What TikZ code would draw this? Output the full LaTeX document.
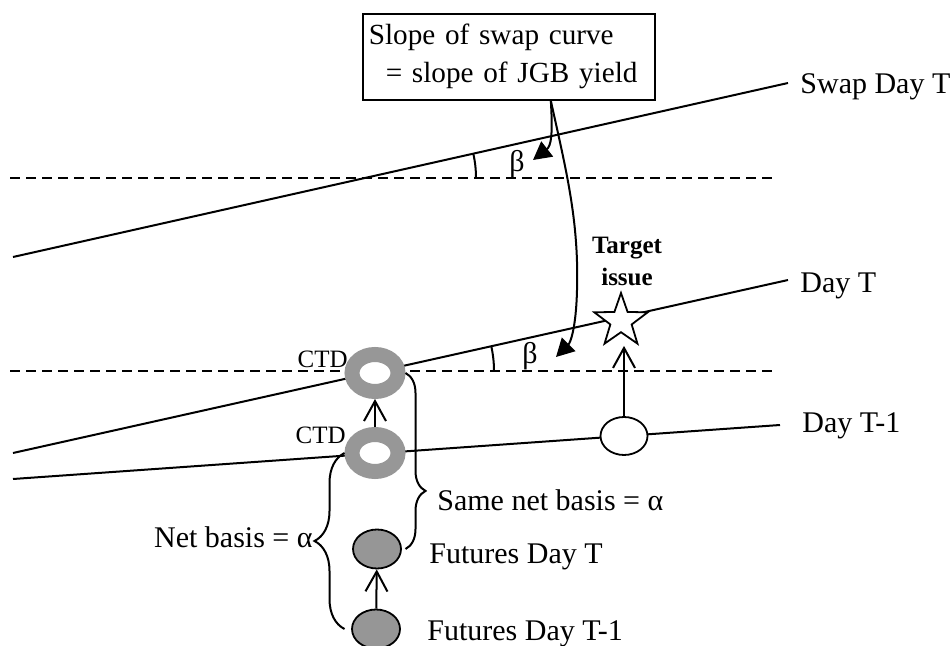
\documentclass[tikz,border=0pt]{standalone}
\usepackage{fontspec}
\setmainfont{Liberation Serif}
\usetikzlibrary{shapes.geometric,arrows.meta,positioning,decorations.pathreplacing,calc}
\definecolor{ringgray}{HTML}{979797}
\definecolor{futgray}{HTML}{969696}

\begin{document}
\begin{tikzpicture}[
  x=0.5pt, y=-0.5pt,
  curve/.style={line width=1pt},
  levelline/.style={line width=1pt, dash pattern=on 5pt off 3pt},
  lbl/.style={font=\fontsize{15}{18}\selectfont, inner sep=0pt},
  ctdlbl/.style={font=\fontsize{12.5}{14}\selectfont, inner sep=0pt},
  tgtlbl/.style={font=\fontsize{12.5}{16}\selectfont\bfseries, inner sep=0pt, align=center},
  notebox/.style={draw, line width=0.8pt, font=\fontsize{14.6}{19}\selectfont,
                  align=left, text width=140pt, inner xsep=3pt, minimum height=43pt},
  ctdring/.style={ellipse, draw=ringgray, line width=7.5pt, fill=white,
                  minimum width=23pt, minimum height=18.5pt, inner sep=0pt},
  bondov/.style={ellipse, draw, line width=0.9pt, fill=white,
                 minimum width=23.5pt, minimum height=19pt, inner sep=0pt},
  futov/.style={ellipse, draw, line width=0.9pt, fill=futgray,
                minimum width=24pt, minimum height=19.5pt, inner sep=0pt},
  tgtstar/.style={star, star points=5, star point ratio=2.5, draw, line width=0.9pt,
                  fill=white, minimum size=28pt, inner sep=0pt},
  moveup/.style={-{Straight Barb[length=10pt,width=11pt]}, line width=1pt},
  ptr/.style={-{Triangle[length=9pt,width=9.5pt]}, line width=1pt},
  bracel/.style={decorate, decoration={brace, amplitude=15pt}, line width=1pt},
  bracer/.style={decorate, decoration={brace, amplitude=10pt, aspect=0.67}, line width=1pt}
]
\useasboundingbox (0,0) rectangle (952,646);

%--- Yield curves ---
\coordinate (swapL) at (13,257);
\coordinate (swapR) at (788,83);
\coordinate (dayL)  at (13,453);
\coordinate (dayR)  at (788,280);
\coordinate (prevL) at (13,479);
\coordinate (prevR) at (780,425);
\draw[curve] (swapL) -- (swapR);
\draw[curve] (dayL) -- (dayR);
\draw[curve] (prevL) -- (prevR);
\node[lbl, anchor=base west] (swaplbl) at (800,94)  {Swap Day T};
\node[lbl, anchor=base west] (daylbl)  at (800,293) {Day T};
\node[lbl, anchor=base west] (prevlbl) at (802,432) {Day T-1};

%--- Flat reference levels ---
\draw[levelline] (10,178) -- (775,178);
\draw[levelline] (10,371) -- (777,371);

%--- Slope angles ---
\draw[curve] (365,178) ++(111,0) arc[start angle=0, end angle=-12.6, radius=111];
\draw[curve] (380,371) ++(114,0) arc[start angle=0, end angle=-12.6, radius=114];
\node[lbl] (betaup)  at (517,164) {β};
\node[lbl] (betalow) at (530,356) {β};

%--- Bonds ---
\node[ctdring] (ctdT) at (375,373) {};
\node[ctdring] (ctdP) at (375,453) {};
\node[ctdlbl, anchor=base east] at (348,367) {CTD};
\node[ctdlbl, anchor=base east] at (346,443) {CTD};
\node[bondov] (tgtP) at (624,436) {};
\node[tgtstar] (tgtT) at (621,321) {};
\node[tgtlbl] (tgtlbl) at (627,261) {Target\\issue};

%--- Futures ---
\node[futov] (futT) at (377,549) {};
\node[futov] (futP) at (376,629) {};
\node[lbl, anchor=base west] at (429,563) {Futures Day T};
\node[lbl, anchor=base west] at (427,640) {Futures Day T-1};

%--- Moves from T-1 to T ---
\draw[moveup] (ctdP) -- (ctdT);
\draw[moveup] (futP) -- (futT);
\draw[moveup] (tgtP.north) -- (tgtP.north |- tgtT.outer point 3);

%--- Net basis braces ---
\draw[bracel] (ctdP.west |- futP.center) -- (ctdP.west);
\node[lbl, anchor=base east] at (313,547) {Net basis = α};
\draw[bracer] (ctdT.east) -- (ctdT.east |- futT.center);
\node[lbl, anchor=base west] at (437,510) {Same net basis = α};

%--- Slope note ---
\node[notebox, anchor=north west] (slope) at (362,13)
  {Slope of swap curve\\\hspace*{8.5pt}= slope of JGB yield};
\coordinate (src) at ([xshift=21pt]slope.south);
\coordinate (betaU) at (533,160);
\coordinate (betaL) at (556,357);
\draw[ptr] (src) .. controls (553,135) and (551,146) .. (betaU);
\draw[ptr] (src) .. controls (566,170) and (579,220) .. (577,290)
  .. controls (576,330) and (570,343) .. (betaL);

\end{tikzpicture}
\end{document}
